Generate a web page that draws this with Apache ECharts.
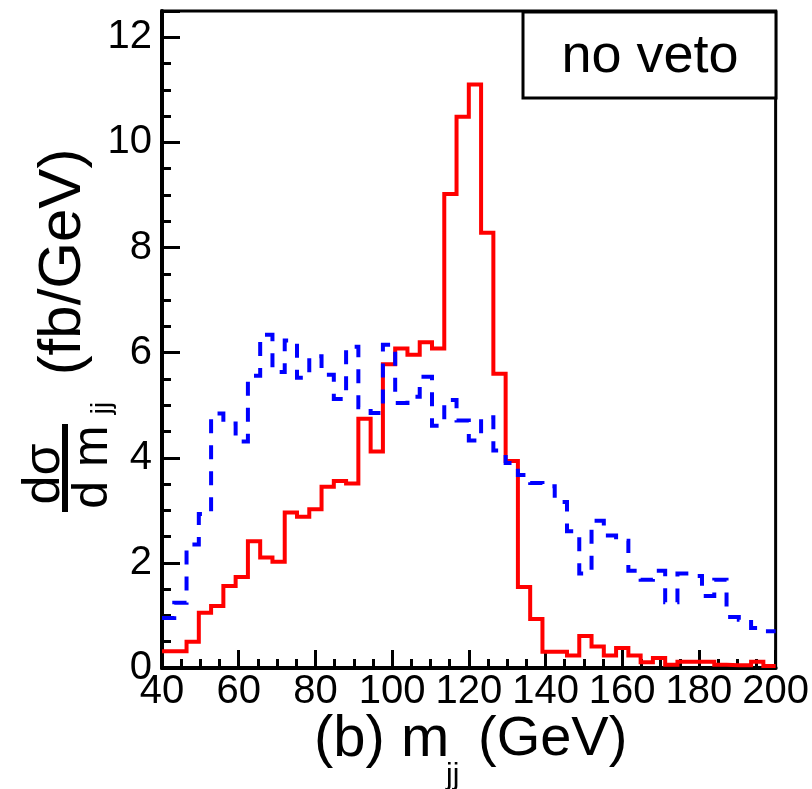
<!DOCTYPE html>
<html>
<head>
<meta charset="utf-8">
<script src="https://cdn.jsdelivr.net/npm/echarts/dist/echarts.min.js"></script>
<style>
  html, body { margin: 0; padding: 0; background: #fff; }
  #main { width: 812px; height: 789px; }
</style>
</head>
<body>
<div id="main"></div>
<script>
// histogram range, 50 bins of 3.2 GeV
var binLow = 40;
var binHigh = 200;

// no veto, signal (red, solid)
var redVals = [0.32, 0.32, 0.50, 1.05, 1.18, 1.56, 1.73, 2.41, 2.10, 2.02,
               2.96, 2.88, 3.02, 3.45, 3.56, 3.51, 4.74, 4.12, 5.78, 6.08,
               5.96, 6.20, 6.08, 9.02, 10.49, 11.10, 8.28, 5.60, 3.94, 1.54,
               0.93, 0.31, 0.31, 0.24, 0.61, 0.41, 0.24, 0.38, 0.24, 0.11,
               0.19, 0.06, 0.12, 0.12, 0.12, 0.06, 0.05, 0.05, 0.12, 0.04];

// no veto, background (blue, dashed)
var blueVals = [0.95, 1.24, 2.35, 2.93, 4.84, 4.65, 4.31, 5.56, 6.34, 5.63,
                6.23, 5.52, 5.93, 5.58, 5.12, 6.11, 4.96, 4.85, 6.15, 5.04,
                5.16, 5.54, 4.61, 5.10, 4.71, 4.33, 4.77, 4.14, 3.90, 3.67,
                3.52, 3.46, 3.16, 2.60, 1.80, 2.80, 2.52, 2.42, 1.85, 1.68,
                1.85, 1.25, 1.80, 1.75, 1.37, 1.68, 0.97, 0.92, 0.76, 0.70];

var xTicks = [40, 60, 80, 100, 120, 140, 160, 180, 200];
var yTicks = [0, 2, 4, 6, 8, 10, 12];

// left bin edges + closing point at the upper edge, drawn with step:'end'
function steps(vals) {
  var w = (binHigh - binLow) / vals.length;
  var pts = vals.map(function (v, i) { return [binLow + i * w, v]; });
  pts.push([binHigh, vals[vals.length - 1]]);
  return pts;
}

var FONT = 'Liberation Sans';
var chart = echarts.init(document.getElementById('main'), null, { renderer: 'canvas' });

var option = {
  animation: false,
  backgroundColor: '#fff',
  grid: {
    left: 162, right: 36, top: 11, bottom: 121,
    show: true, borderColor: '#000', borderWidth: 3, backgroundColor: 'transparent'
  },
  xAxis: {
    type: 'value', min: xTicks[0], max: xTicks[xTicks.length - 1], interval: 20,
    axisLine: { show: true, lineStyle: { color: '#000', width: 4 } },
    axisTick: { show: true, inside: true, length: 18, lineStyle: { color: '#000', width: 3 } },
    minorTick: { show: true, splitNumber: 4, length: 9, lineStyle: { color: '#000', width: 3 } },
    splitLine: { show: false },
    axisLabel: { color: '#000', fontSize: 40, fontFamily: FONT, margin: 4 }
  },
  yAxis: [
    {
      type: 'value', min: 0, max: 12.5, interval: 2,
      axisLine: { show: true, lineStyle: { color: '#000', width: 4 } },
      axisTick: { show: true, inside: true, length: 18, lineStyle: { color: '#000', width: 3 } },
      splitLine: { show: false },
      axisLabel: {
        color: '#000', fontSize: 40, fontFamily: FONT, margin: 10,
        formatter: function (v) { return yTicks.indexOf(v) >= 0 ? String(v) : ''; }
      }
    },
    {
      // minor ticks every 0.5
      type: 'value', min: 0, max: 12.5, interval: 0.5, position: 'left',
      axisLine: { show: false },
      axisTick: { show: true, inside: true, length: 9, lineStyle: { color: '#000', width: 3 } },
      splitLine: { show: false },
      axisLabel: { show: false }
    }
  ],
  series: [
    {
      type: 'line', step: 'end', data: steps(redVals), symbol: 'none', yAxisIndex: 0,
      lineStyle: { color: '#ff0000', width: 4, join: 'miter', cap: 'butt' }
    },
    {
      type: 'line', step: 'end', data: steps(blueVals), symbol: 'none', yAxisIndex: 0,
      lineStyle: { color: '#0000ff', width: 4, type: [14, 12], join: 'miter', cap: 'butt' }
    }
  ],
  graphic: [
    {
      type: 'rect', z: 100,
      shape: { x: 523, y: 12, width: 253, height: 86 },
      style: { fill: '#fff', stroke: '#000', lineWidth: 3 }
    },
    {
      type: 'text', z: 101, x: 650, y: 57,
      style: { text: 'no veto', fontSize: 54, fontFamily: FONT, fill: '#000', align: 'center', verticalAlign: 'middle' }
    },
    // y title: d(sigma)/d m_jj (fb/GeV), rotated
    {
      type: 'text', z: 101, x: 45, y: 474, rotation: Math.PI / 2,
      style: { text: 'dσ', fontSize: 52, fontFamily: FONT, fill: '#000', align: 'center', verticalAlign: 'middle' }
    },
    {
      type: 'rect', z: 101,
      shape: { x: 62, y: 424, width: 6, height: 88 },
      style: { fill: '#000' }
    },
    {
      type: 'text', z: 101, x: 93, y: 467, rotation: Math.PI / 2,
      style: { text: 'd m', fontSize: 50, fontFamily: FONT, fill: '#000', align: 'center', verticalAlign: 'middle' }
    },
    {
      type: 'text', z: 101, x: 102, y: 408, rotation: Math.PI / 2,
      style: { text: 'jj', fontSize: 28, fontFamily: FONT, fill: '#000', align: 'center', verticalAlign: 'middle' }
    },
    {
      type: 'text', z: 101, x: 63, y: 262, rotation: Math.PI / 2,
      style: { text: '(fb/GeV)', fontSize: 60, fontFamily: FONT, fill: '#000', align: 'center', verticalAlign: 'middle' }
    },
    // x title: (b) m_jj (GeV)
    {
      type: 'text', z: 101, x: 314, y: 740,
      style: { text: '(b) m', fontSize: 58, fontFamily: FONT, fill: '#000', align: 'left', verticalAlign: 'middle' }
    },
    {
      type: 'text', z: 101, x: 446, y: 776,
      style: { text: 'jj', fontSize: 30, fontFamily: FONT, fill: '#000', align: 'left', verticalAlign: 'middle' }
    },
    {
      type: 'text', z: 101, x: 478, y: 740,
      style: { text: '(GeV)', fontSize: 56, fontFamily: FONT, fill: '#000', align: 'left', verticalAlign: 'middle' }
    }
  ]
};

chart.setOption(option);
</script>
</body>
</html>
